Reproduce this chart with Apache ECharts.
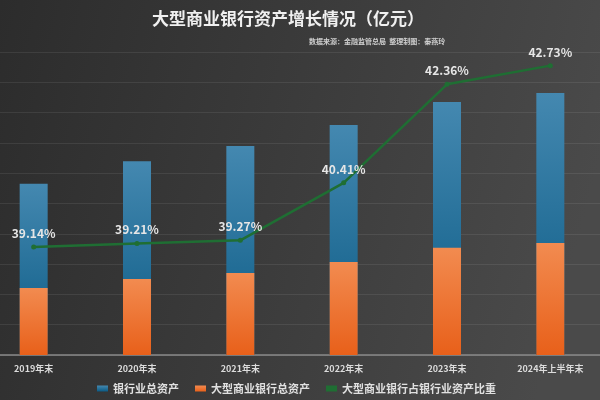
<!DOCTYPE html>
<html>
<head>
<meta charset="utf-8">
<script src="https://cdn.jsdelivr.net/npm/echarts@6/dist/echarts.min.js"></script>
<style>html,body{margin:0;padding:0;}#c{width:600px;height:400px;}</style>
</head>
<body>
<div id="c"></div>
<script>
var categories = ['2019年末', '2020年末', '2021年末', '2022年末', '2023年末', '2024年上半年末'];
var bankTotal = [2825000, 3197000, 3448000, 3794000, 4173000, 4323000];
var bigBankTotal = [1106000, 1253000, 1354000, 1533000, 1768000, 1847000];
var bigBankShare = [39.14, 39.21, 39.27, 40.41, 42.36, 42.73];
var seriesNames = ['银行业总资产', '大型商业银行总资产', '大型商业银行占银行业资产比重'];
var titleText = '大型商业银行资产增长情况（亿元）';
var subText = '数据来源：金融监管总局  整理制图：秦燕玲';

var FONT = '"Noto Sans CJK SC", "Noto Sans", sans-serif';
var chart = echarts.init(document.getElementById('c'));
chart.setOption({
  backgroundColor: new echarts.graphic.LinearGradient(0, 0, 1, 0.4, [
    {offset: 0, color: '#2c2c2c'}, {offset: 1, color: '#4a4a4a'}
  ]),
  textStyle: {fontFamily: FONT},
  title: [
    {text: titleText, left: 147, top: 5,
     textStyle: {color: '#f0f0f0', fontSize: 17, fontWeight: 'bold', fontFamily: FONT}},
    {text: subText, left: 304, top: 33,
     textStyle: {color: '#cfcfcf', fontSize: 7, fontWeight: 'bold', fontFamily: FONT}}
  ],
  legend: {
    left: 92, top: 378, itemWidth: 11, itemHeight: 6, itemGap: 16,
    icon: 'rect',
    textStyle: {color: '#e0e0e0', fontSize: 11, fontWeight: 'bold', fontFamily: FONT},
    data: seriesNames
  },
  grid: {left: -18, right: -2, top: 52, bottom: 45, containLabel: false, outerBoundsMode: 'none'},
  xAxis: {
    type: 'category', data: categories, boundaryGap: true,
    axisLine: {lineStyle: {color: '#8a8a8a', width: 1.5}},
    axisTick: {show: false},
    axisLabel: {color: '#dcdcdc', fontSize: 9, fontWeight: 'bold', margin: 9, fontFamily: FONT}
  },
  yAxis: [
    {type: 'value', min: 0, max: 5000000, interval: 500000,
     axisLabel: {show: false}, axisLine: {show: false}, axisTick: {show: false},
     splitLine: {lineStyle: {color: 'rgba(255,255,255,0.08)', width: 1}}},
    {type: 'value', min: 37, max: 43, interval: 1,
     axisLabel: {show: false}, axisLine: {show: false}, axisTick: {show: false},
     splitLine: {show: false}}
  ],
  series: [
    {name: seriesNames[0], type: 'bar', data: bankTotal, barWidth: 28, barGap: '-100%',
     itemStyle: {color: new echarts.graphic.LinearGradient(0, 0, 0, 1, [
       {offset: 0, color: '#4488b0'}, {offset: 1, color: '#0a5a84'}])}},
    {name: seriesNames[1], type: 'bar', data: bigBankTotal, barWidth: 28, barGap: '-100%',
     itemStyle: {color: new echarts.graphic.LinearGradient(0, 0, 0, 1, [
       {offset: 0, color: '#f28b50'}, {offset: 1, color: '#e8601a'}])}},
    {name: seriesNames[2], type: 'line', yAxisIndex: 1, data: bigBankShare,
     symbol: 'circle', symbolSize: 5,
     lineStyle: {color: '#1f6e33', width: 2.5},
     itemStyle: {color: '#1f6e33'},
     label: {show: true, position: 'top', distance: 5, formatter: '{c}%',
       color: '#e6e6e6', fontSize: 12, fontWeight: 'bold', fontFamily: FONT}}
  ]
});
</script>
</body>
</html>
